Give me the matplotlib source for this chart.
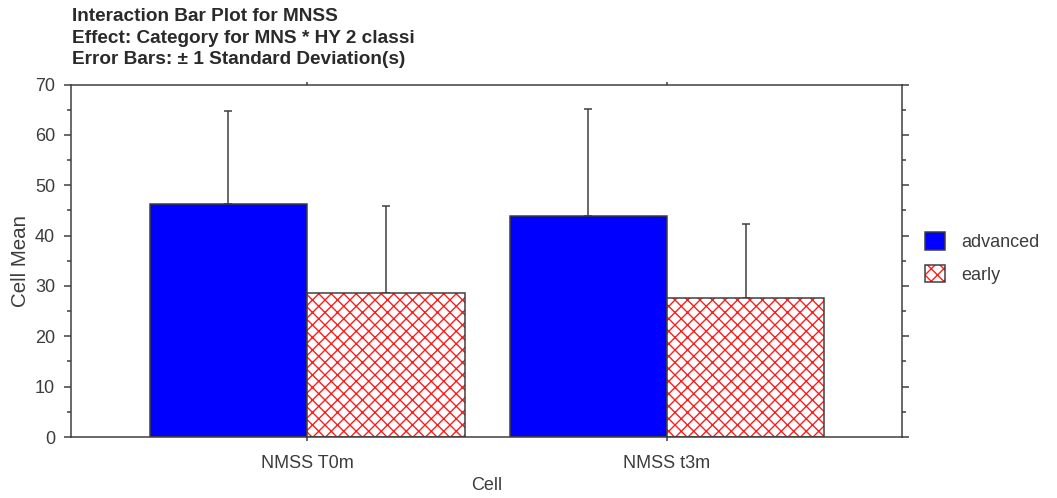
import numpy as np
import matplotlib.pyplot as plt
from matplotlib.ticker import MultipleLocator
from matplotlib.legend_handler import HandlerTuple

# Cell means and standard deviations per category
categories = ['NMSS T0m', 'NMSS t3m']
groups = ['advanced', 'early']
advanced_mean = [46.2, 43.8]
advanced_sd = [18.6, 21.4]
early_mean = [28.5, 27.7]
early_sd = [17.4, 14.5]

DPI = 75  # hatch unit is one inch, so a lower dpi gives a finer cross-hatch
PX = 72.0 / DPI  # points per pixel
GREY = '#3c3c3c'

plt.rcParams['font.family'] = ['Liberation Sans', 'DejaVu Sans']
plt.rcParams['hatch.linewidth'] = 1.3
plt.rcParams['text.color'] = GREY
plt.rcParams['axes.labelcolor'] = GREY

fig = plt.figure(figsize=(1057 / DPI, 498 / DPI), dpi=DPI)
ax = fig.add_axes([71 / 1057, 1 - 437 / 498, 831 / 1057, 352.5 / 498])

x = np.arange(len(categories))
w = 0.4375

adv = ax.bar(x - w / 2, advanced_mean, w, color='#0000ff',
             edgecolor=GREY, linewidth=1.5 * PX, zorder=2)
early_fill = ax.bar(x + w / 2, early_mean, w, color='white',
                    edgecolor='#ff1a1a', linewidth=0, hatch='xx', zorder=2)
early_edge = ax.bar(x + w / 2, early_mean, w, fill=False,
                    edgecolor=GREY, linewidth=1.5 * PX, zorder=3)

err_kw = dict(fmt='none', ecolor=GREY, elinewidth=1.5 * PX,
              capsize=4 * PX, capthick=1.5 * PX, zorder=1)
ax.errorbar(x - w / 2, advanced_mean,
            yerr=[np.zeros(len(x)), advanced_sd], **err_kw)
ax.errorbar(x + w / 2, early_mean,
            yerr=[np.zeros(len(x)), early_sd], **err_kw)

ax.set_xlim(-0.6556, 1.6528)
ax.set_ylim(0, 70)
ax.set_xticks(x)
ax.set_xticklabels(categories)
ax.yaxis.set_major_locator(MultipleLocator(10))
ax.yaxis.set_minor_locator(MultipleLocator(5))

for s in ax.spines.values():
    s.set_color(GREY)
    s.set_linewidth(1.5 * PX)

fs = 18 * PX
ax.tick_params(axis='y', which='major', direction='out', length=7 * PX,
               width=1.5 * PX, color=GREY, labelsize=fs, labelcolor=GREY,
               pad=9 * PX, right=True)
ax.tick_params(axis='y', which='minor', direction='out', length=4 * PX,
               width=1.5 * PX, color=GREY, right=True)
ax.tick_params(axis='x', direction='out', length=3.5 * PX, width=1.5 * PX,
               color=GREY, labelsize=fs, labelcolor=GREY, pad=15 * PX,
               top=True)

ax.set_ylabel('Cell Mean', fontsize=20.5 * PX, labelpad=5 * PX)
ax.set_xlabel('Cell', fontsize=fs, labelpad=5 * PX)

fig.text(72 / 1057, 1 - 8 / 498,
         'Interaction Bar Plot for MNSS\n'
         'Effect: Category for MNS * HY 2 classi\n'
         'Error Bars: \u00b1 1 Standard Deviation(s)',
         ha='left', va='top', fontsize=19 * PX, fontweight='bold',
         color='#2a2a2a', linespacing=1.36)

ax.legend([adv[0], (early_fill[0], early_edge[0])], groups,
          handler_map={tuple: HandlerTuple(ndivide=1)},
          loc='upper left', bbox_to_anchor=(925 / 1057, 1 - 232 / 498),
          bbox_transform=fig.transFigure, frameon=False, fontsize=fs,
          handlelength=1.1, handleheight=1.15, handletextpad=0.9,
          labelspacing=0.75, borderpad=0, borderaxespad=0)

fig.savefig('out.png', dpi=DPI)
